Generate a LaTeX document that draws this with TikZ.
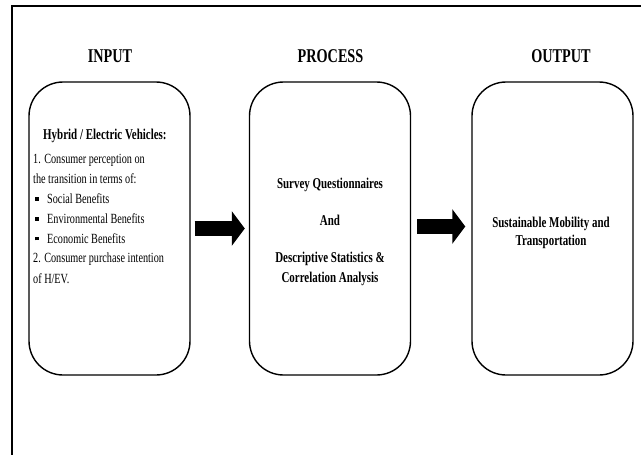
\documentclass[tikz,border=0pt]{standalone}
\usepackage{fontspec}
\setmainfont{Liberation Serif}[FakeStretch=0.73]
\usetikzlibrary{arrows.meta}
\newcommand\sqbul{\hspace*{2pt}\rule[2.5pt]{3.5pt}{3.5pt}\hspace*{8.5pt}}
\begin{document}
\begin{tikzpicture}[x=1pt,y=-1pt,
  frame/.style={line width=2pt},
  stagebox/.style={draw, line width=1.4pt, rounded corners=34pt, minimum width=161pt, minimum height=293pt, inner sep=0pt},
  title/.style={font=\fontsize{19.5}{22}\selectfont\bfseries, anchor=base, inner sep=0pt},
  blockarrow/.style={line width=15pt, -{Triangle[length=13pt,width=34pt]}}
]
\useasboundingbox (0,0) rectangle (641,455);
\draw[frame] (12,456) -- (12,6) -- (642,6);

\node[title] (tin) at (110,63) {INPUT};
\node[title] (tproc) at (330.5,63) {PROCESS};
\node[title] (tout) at (561,63) {OUTPUT};

\node[stagebox] (in) at (109.5,228.5) {};
\node[stagebox] (proc) at (330,228.5) {};
\node[stagebox] (out) at (552.5,228.5) {};

\node[anchor=base west, inner sep=0pt, font=\fontsize{15}{20}\selectfont\bfseries] (hev) at (43,139) {Hybrid / Electric Vehicles:};
\node[anchor=base west, inner sep=0pt, text width=155pt, align=flush left, font=\fontsize{14}{20}\selectfont] (list) at (33,163) {1. Consumer perception on\\
the transition in terms of:\\
\sqbul Social Benefits\\
\sqbul Environmental Benefits\\
\sqbul Economic Benefits\\
2. Consumer purchase intention\\
of H/EV.};

\node[anchor=base, inner sep=0pt, text width=155pt, align=flush center, font=\fontsize{15}{20}\selectfont\bfseries] (proctext) at (330,188) {Survey Questionnaires\\[17pt]
And\\[17pt]
Descriptive Statistics \&\\
Correlation Analysis};

\node[anchor=base, inner sep=0pt, text width=155pt, align=flush center, font=\fontsize{15}{18}\selectfont\bfseries] (outtext) at (551,227) {Sustainable Mobility and\\
Transportation};

\draw[blockarrow, shorten <=4pt, shorten >=4pt] (in.east) -- (proc.west);
\draw[blockarrow, shorten <=6pt, shorten >=6pt] ([yshift=2pt]proc.east) -- ([yshift=2pt]out.west);
\end{tikzpicture}
\end{document}
